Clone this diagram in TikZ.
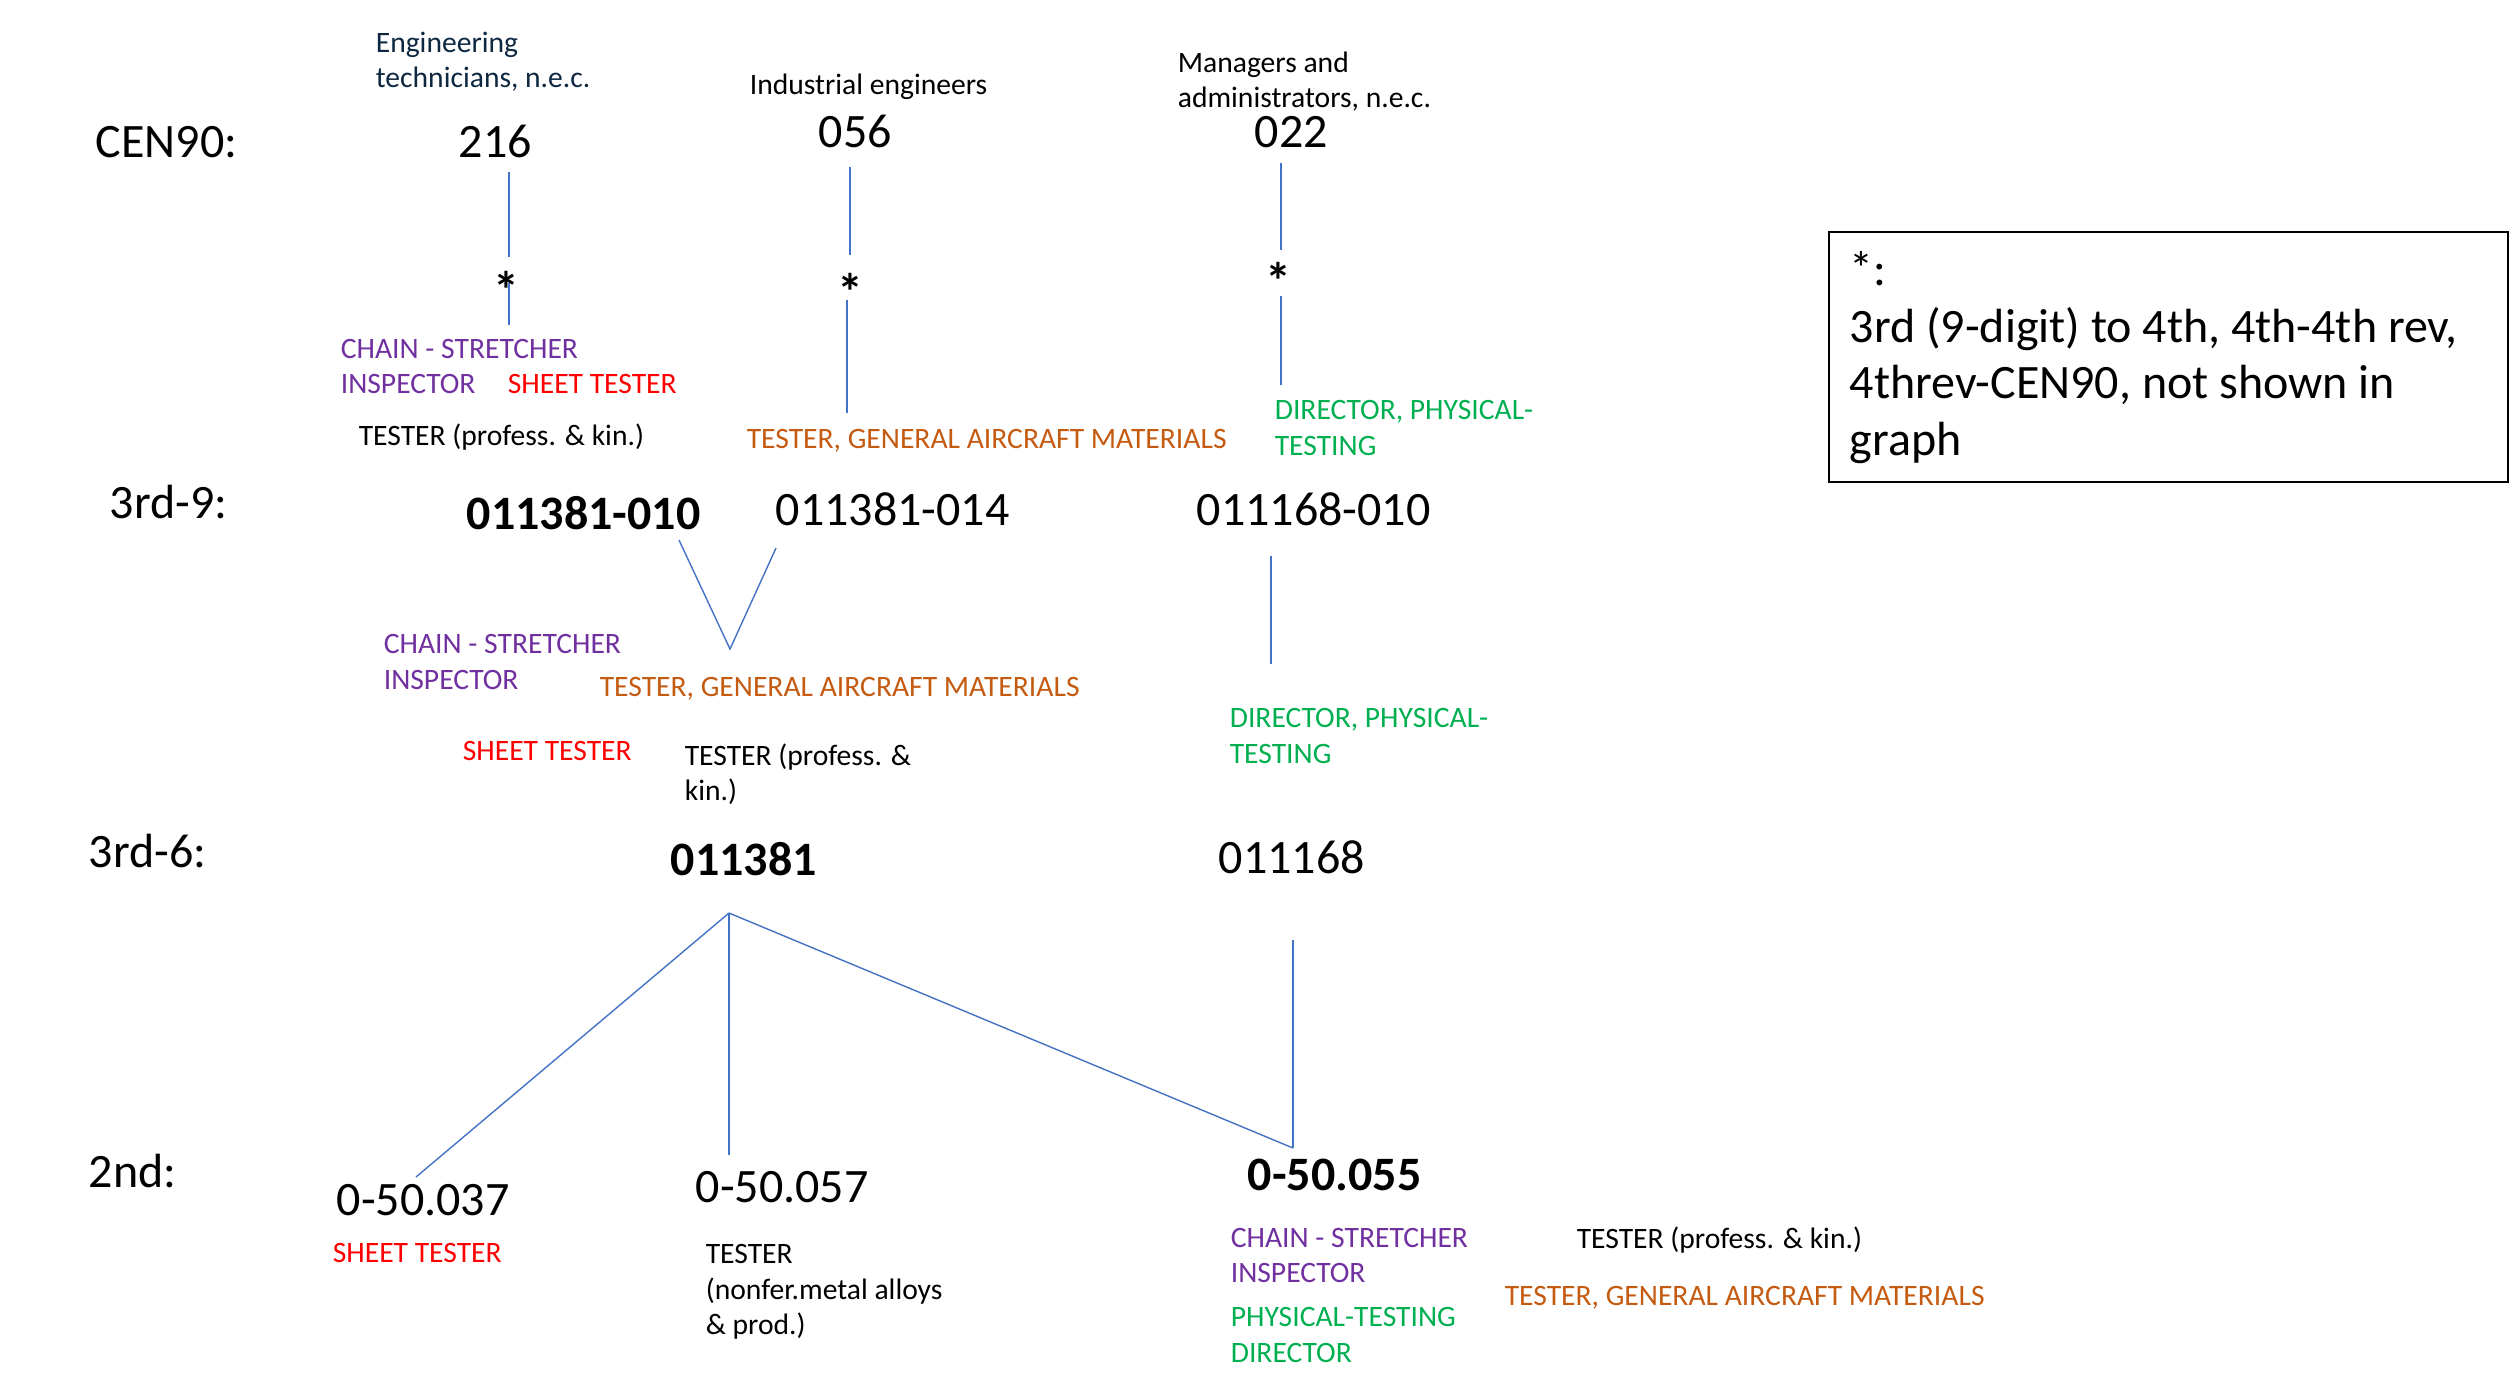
\documentclass[tikz,border=0pt]{standalone}
\usepackage{fontspec}
\setmainfont{Carlito}
\definecolor{linkblue}{HTML}{4472C4}
\definecolor{occpurple}{HTML}{7030A0}
\definecolor{occred}{HTML}{FF0000}
\definecolor{occorange}{HTML}{C55A11}
\definecolor{occgreen}{HTML}{00B050}
\definecolor{occnavy}{HTML}{0E2841}
\begin{document}
\begin{tikzpicture}[x=0.25pt,y=-0.25pt,
  lbl/.style={anchor=base west,inner sep=0pt,font=\fontsize{7.4}{8.9}\selectfont},
  code/.style={anchor=base west,inner sep=0pt,font=\fontsize{12}{14.4}\selectfont},
  codeb/.style={anchor=base west,inner sep=0pt,font=\fontsize{12}{14.4}\selectfont\bfseries},
  note/.style={anchor=base west,inner sep=0pt,font=\fontsize{12}{14.4}\selectfont},
  ast/.style={inner sep=0pt,font=\fontsize{13}{15}\selectfont\bfseries},
  conn/.style={draw=linkblue,line width=0.35pt},
]
\useasboundingbox (0,0) rectangle (2513,1374);

% row labels
\node[code] (lvcen) at (95,157) {CEN90:};
\node[code] (lv39) at (109,518) {3rd-9:};
\node[code] (lv36) at (88,867) {3rd-6:};
\node[code] (lv2) at (88,1187) {2nd:};

% CEN90 codes with their titles
\node[lbl,text=occnavy] (h216a) at (375,52) {Engineering};
\node[lbl,text=occnavy] (h216b) at (375,87) {technicians, n.e.c.};
\node[lbl] (h056) at (749,94) {Industrial engineers};
\node[lbl] (h022a) at (1177,72) {Managers and};
\node[lbl] (h022b) at (1177,107) {administrators, n.e.c.};
\node[code] (c216) at (458,157) {216};
\node[code] (c056) at (818,147) {056};
\node[code] (c022) at (1254,147) {022};

% asterisk links CEN90 -> 3rd-9
\node[ast] (s216) at (506,290) {*};
\node[ast] (s056) at (850,292) {*};
\node[ast] (s022) at (1278,281) {*};
\coordinate (t216) at (509,172); \coordinate (m216) at (509,257);
\coordinate (u216) at (509,283); \coordinate (e216) at (509,325);
\coordinate (t056) at (850,167); \coordinate (m056) at (850,255);
\coordinate (u056) at (847,300); \coordinate (e056) at (847,413);
\coordinate (t022) at (1281,163); \coordinate (m022) at (1281,250);
\coordinate (u022) at (1281,296); \coordinate (e022) at (1281,385);
\draw[conn] (t216) -- (m216);
\draw[conn] (u216) -- (e216);
\draw[conn] (t056) -- (m056);
\draw[conn] (u056) -- (e056);
\draw[conn] (t022) -- (m022);
\draw[conn] (u022) -- (e022);

% titles between CEN90 and 3rd-9
\node[lbl,text=occpurple] (p1a) at (340,358) {CHAIN - STRETCHER};
\node[lbl,text=occpurple] (p1b) at (340,393) {INSPECTOR};
\node[lbl,text=occred] (r1) at (507,393) {SHEET TESTER};
\node[lbl] (k1) at (358,445) {TESTER (profess. \& kin.)};
\node[lbl,text=occorange] (o1) at (746,448) {TESTER, GENERAL AIRCRAFT MATERIALS};
\node[lbl,text=occgreen] (g1a) at (1274,419) {DIRECTOR, PHYSICAL-};
\node[lbl,text=occgreen] (g1b) at (1274,455) {TESTING};

% 3rd-9 codes
\node[codeb] (a010) at (466,529) {011381-010};
\node[code] (a014) at (775,525) {011381-014};
\node[code] (b010) at (1196,525) {011168-010};
\coordinate (v1) at (679,540); \coordinate (v2) at (776,548); \coordinate (vj) at (730,649);
\coordinate (w1) at (1271,556); \coordinate (w2) at (1271,664);
\draw[conn] (v1) -- (vj) -- (v2);
\draw[conn] (w1) -- (w2);

% titles between 3rd-9 and 3rd-6
\node[lbl,text=occpurple] (p2a) at (383,653) {CHAIN - STRETCHER};
\node[lbl,text=occpurple] (p2b) at (383,689) {INSPECTOR};
\node[lbl,text=occorange] (o2) at (599,696) {TESTER, GENERAL AIRCRAFT MATERIALS};
\node[lbl,text=occred] (r2) at (462,760) {SHEET TESTER};
\node[lbl] (k2a) at (684,765) {TESTER (profess. \&};
\node[lbl] (k2b) at (684,800) {kin.)};
\node[lbl,text=occgreen] (g2a) at (1229,727) {DIRECTOR, PHYSICAL-};
\node[lbl,text=occgreen] (g2b) at (1229,763) {TESTING};

% 3rd-6 codes
\node[codeb] (a6) at (670,875) {011381};
\node[code] (b6) at (1218,873) {011168};

% 2nd codes
\node[code] (d037) at (336,1215) {0-50.037};
\node[code] (d057) at (695,1202) {0-50.057};
\node[codeb] (d055) at (1247,1190) {0-50.055};

% links 3rd-6 -> 2nd
\coordinate (apex) at (729,913);
\coordinate (f037) at (416,1177);
\coordinate (f057) at (729,1155);
\coordinate (f055) at (1293,1148);
\coordinate (top168) at (1293,940);
\draw[conn] (apex) -- (f037);
\draw[conn] (apex) -- (f057);
\draw[conn] (apex) -- (f055);
\draw[conn] (top168) -- (f055);

% titles under 2nd
\node[lbl,text=occred] (r3) at (332,1262) {SHEET TESTER};
\node[lbl] (n3a) at (705,1263) {TESTER};
\node[lbl] (n3b) at (705,1299) {(nonfer.metal alloys};
\node[lbl] (n3c) at (705,1334) {\& prod.)};
\node[lbl,text=occpurple] (p3a) at (1230,1247) {CHAIN - STRETCHER};
\node[lbl,text=occpurple] (p3b) at (1230,1282) {INSPECTOR};
\node[lbl,text=occgreen] (g3a) at (1230,1326) {PHYSICAL-TESTING};
\node[lbl,text=occgreen] (g3b) at (1230,1362) {DIRECTOR};
\node[lbl] (k3) at (1576,1248) {TESTER (profess. \& kin.)};
\node[lbl,text=occorange] (o3) at (1504,1305) {TESTER, GENERAL AIRCRAFT MATERIALS};

% note box
\draw[line width=0.7pt] (1829,232) rectangle (2508,482);
\node[note] (nt1) at (1849,285) {*:};
\node[note] (nt2) at (1849,342) {3rd (9-digit) to 4th, 4th-4th rev,};
\node[note] (nt3) at (1849,398) {4threv-CEN90, not shown in};
\node[note] (nt4) at (1849,455) {graph};
\end{tikzpicture}
\end{document}
